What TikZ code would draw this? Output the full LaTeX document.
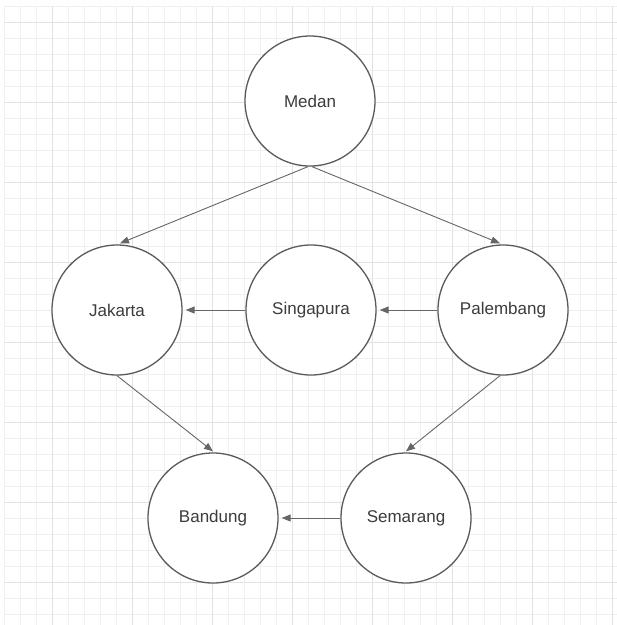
\documentclass[tikz,border=0pt]{standalone}
\usepackage{fontspec}
\setmainfont{Liberation Sans}
\usetikzlibrary{arrows.meta}
\definecolor{minorgrid}{HTML}{F0F0F0}
\definecolor{majorgrid}{HTML}{E2E2E2}
\definecolor{edgecol}{HTML}{5A5A5A}
\definecolor{linkcol}{HTML}{666666}
\definecolor{textcol}{HTML}{3C3C3C}
\begin{document}
\begin{tikzpicture}[x=1pt,y=-1pt,
  city/.style={circle,draw=edgecol,line width=1.3pt,fill=white,minimum size=130pt,inner sep=0pt,text=textcol,font=\fontsize{17}{20}\selectfont},
  link/.style={draw=linkcol,line width=0.9pt,-{Triangle[length=9pt,width=7pt]}}]
\useasboundingbox (0,0) rectangle (617,625);
\fill[white] (0,0) rectangle (617,625);
% grid
\foreach \i in {0,...,38} {
  \draw[minorgrid,line width=0.8pt] ({4.3+16*\i},6) -- ({4.3+16*\i},625);
}
\foreach \i in {0,...,38} {
  \draw[minorgrid,line width=0.8pt] (4,{6.7+16*\i}) -- (617,{6.7+16*\i});
}
\foreach \i in {0,...,7} {
  \draw[majorgrid,line width=1pt] ({52.3+80*\i},6) -- ({52.3+80*\i},625);
  \draw[majorgrid,line width=1pt] (4,{22.7+80*\i}) -- (617,{22.7+80*\i});
}
% nodes
\node[city] (medan) at (310,101) {Medan};
\node[city] (jakarta) at (117,310) {Jakarta};
\node[city] (singapura) at (311,310) {Singapura};
\node[city] (palembang) at (503,310) {Palembang};
\node[city] (bandung) at (213,518) {Bandung};
\node[city] (semarang) at (406,518) {Semarang};
% edges
\draw[link] ([xshift=-2pt]medan.south) -- ([xshift=3pt,yshift=1pt]jakarta.north);
\draw[link] ([xshift=2pt]medan.south) -- ([xshift=-3pt,yshift=1pt]palembang.north);
\draw[link] (singapura.west) -- ([xshift=3pt]jakarta.east);
\draw[link] (palembang.west) -- ([xshift=3pt]singapura.east);
\draw[link] (jakarta.south) -- ([yshift=1pt]bandung.north);
\draw[link] ([xshift=-3pt]palembang.south) -- ([yshift=1pt]semarang.north);
\draw[link] (semarang.west) -- ([xshift=3pt]bandung.east);
\end{tikzpicture}
\end{document}
